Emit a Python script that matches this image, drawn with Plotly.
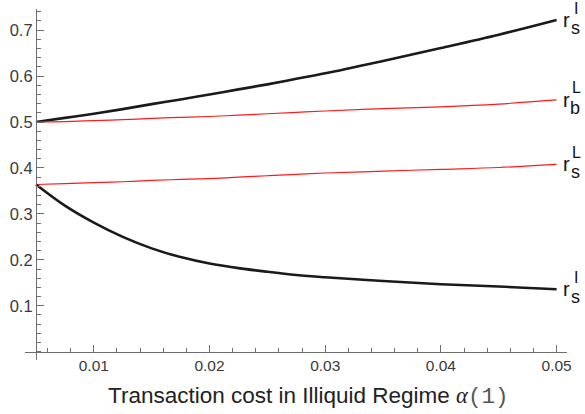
import plotly.graph_objects as go

# Data
alpha = [0.005, 0.0075, 0.01, 0.0125, 0.015, 0.0175, 0.02, 0.0225, 0.025,
         0.0275, 0.03, 0.035, 0.04, 0.045, 0.05]
rsI_upper = [0.500, 0.509, 0.518, 0.528, 0.539, 0.549, 0.560, 0.571, 0.582,
             0.594, 0.606, 0.633, 0.661, 0.690, 0.722]
rbL = [0.500, 0.501, 0.503, 0.505, 0.508, 0.510, 0.512, 0.515, 0.518,
       0.521, 0.524, 0.529, 0.533, 0.539, 0.548]
rsL = [0.364, 0.366, 0.368, 0.370, 0.373, 0.375, 0.377, 0.380, 0.383,
       0.386, 0.389, 0.393, 0.397, 0.401, 0.408]
rsI_lower = [0.364, 0.318, 0.281, 0.250, 0.225, 0.206, 0.192, 0.182, 0.174,
             0.167, 0.162, 0.154, 0.147, 0.142, 0.136]

x_ticks = [0.01, 0.02, 0.03, 0.04, 0.05]
x_ticklabels = ["0.01", "0.02", "0.03", "0.04", "0.05"]
y_ticks = [0.1, 0.2, 0.3, 0.4, 0.5, 0.6, 0.7]
y_ticklabels = ["0.1", "0.2", "0.3", "0.4", "0.5", "0.6", "0.7"]

labels = [  # (series end value, superscript, subscript)
    (rsI_upper[-1], "I", "s"),
    (rbL[-1], "L", "b"),
    (rsL[-1], "L", "s"),
    (rsI_lower[-1], "I", "s"),
]

xr = [0.00405, 0.0509]
yr = [-0.018, 0.746]
x_origin = 0.005
y_origin = 0.0

fig = go.Figure()
for ys, col, w in [(rsI_upper, "#1a1a1a", 2.6), (rbL, "#ff1a1a", 1.2),
                   (rsL, "#ff1a1a", 1.2), (rsI_lower, "#1a1a1a", 2.6)]:
    fig.add_trace(go.Scatter(x=alpha, y=ys, mode="lines",
                             line=dict(color=col, width=w, shape="spline", smoothing=1.0),
                             showlegend=False, hoverinfo="skip"))

axcol = "#6e6e6e"
fig.update_layout(
    width=585, height=414,
    margin=dict(l=25, r=18, t=9, b=54),
    paper_bgcolor="white", plot_bgcolor="white",
    font=dict(family="Liberation Sans, Arial, sans-serif", color="#444444"),
    xaxis=dict(range=xr, showgrid=False, zeroline=False, showline=True,
               linecolor=axcol, linewidth=1.2,
               anchor="free", position=(y_origin - yr[0]) / (yr[1] - yr[0]),
               tickmode="array", tickvals=x_ticks, ticktext=x_ticklabels,
               ticks="inside", ticklen=7, tickwidth=1, tickcolor=axcol,
               tickfont=dict(size=15.5, color="#3a3a3a"),
               minor=dict(tickmode="linear", tick0=0, dtick=0.002, ticks="inside",
                          ticklen=4, tickwidth=1, tickcolor=axcol, showgrid=False)),
    yaxis=dict(range=yr, showgrid=False, zeroline=False, showline=True,
               linecolor=axcol, linewidth=1.2,
               anchor="free", position=(x_origin - xr[0]) / (xr[1] - xr[0]),
               tickmode="array", tickvals=y_ticks, ticktext=y_ticklabels,
               ticks="inside", ticklen=7, tickwidth=1, tickcolor=axcol,
               tickfont=dict(size=16.5, color="#3a3a3a"),
               minor=dict(tickmode="linear", tick0=0, dtick=0.02, ticks="inside",
                          ticklen=4, tickwidth=1, tickcolor=axcol, showgrid=False)),
)

# axis title
fig.add_annotation(
    xref="paper", yref="paper", x=0.523, y=0, yshift=-52, yanchor="bottom",
    showarrow=False,
    text=("<span style='font-family:Liberation Sans, Arial'>Transaction cost in Illiquid Regime </span>"
          "<span style='font-family:Liberation Serif, Times New Roman'><i>α</i></span>"
          "<span style='font-family:Liberation Mono, Courier New; color:#555'>(1)</span>"),
    font=dict(size=22.5, color="#222222"),
)

# curve end labels
for yv, sup, sub in labels:
    fig.add_annotation(x=alpha[-1], y=yv, xshift=10, yshift=0, text="r",
                       showarrow=False, xanchor="center", yanchor="middle",
                       font=dict(size=20, color="#111111"))
    fig.add_annotation(x=alpha[-1], y=yv, xshift=19.5, yshift=12, text=sup,
                       showarrow=False, xanchor="center", yanchor="middle",
                       font=dict(size=16, color="#111111"))
    fig.add_annotation(x=alpha[-1], y=yv, xshift=18.5, yshift=-8, text=sub,
                       showarrow=False, xanchor="center", yanchor="middle",
                       font=dict(size=18, color="#111111"))

fig.write_html("out.html")
